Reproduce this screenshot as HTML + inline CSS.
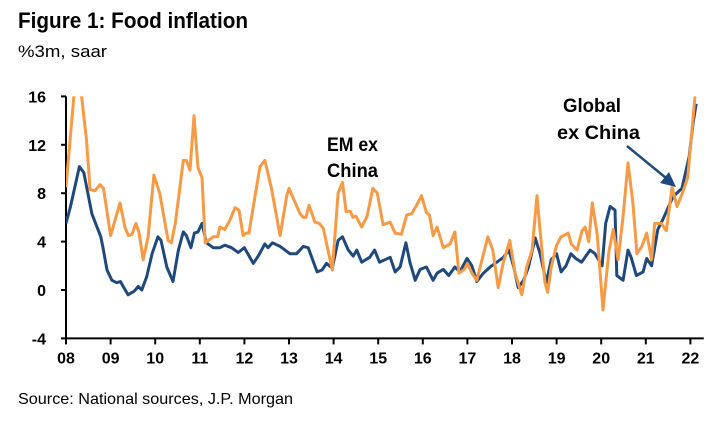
<!DOCTYPE html>
<html><head><meta charset="utf-8"><style>
body{margin:0;background:#fff;width:720px;height:421px;overflow:hidden;font-family:"Liberation Sans",Arial,sans-serif}
</style></head><body>
<svg id="chart" width="720" height="421" xmlns="http://www.w3.org/2000/svg">
<text x="18" y="28" font-size="22" font-weight="bold" textLength="230" lengthAdjust="spacingAndGlyphs" font-family="Liberation Sans, sans-serif">Figure 1: Food inflation</text>
<text x="18" y="57" font-size="17" textLength="89" lengthAdjust="spacingAndGlyphs" font-family="Liberation Sans, sans-serif">%3m, saar</text>
<text x="18" y="404" font-size="16" textLength="275" lengthAdjust="spacingAndGlyphs" font-family="Liberation Sans, sans-serif">Source: National sources, J.P. Morgan</text>
<g id="axes"></g>
<g id="series"></g>
<text x="327" y="151" font-size="19" font-weight="bold" textLength="51" lengthAdjust="spacingAndGlyphs" font-family="Liberation Sans, sans-serif">EM ex</text>
<text x="327" y="177" font-size="19" font-weight="bold" textLength="51" lengthAdjust="spacingAndGlyphs" font-family="Liberation Sans, sans-serif">China</text>
<text x="563" y="112" font-size="19" font-weight="bold" textLength="58" lengthAdjust="spacingAndGlyphs" font-family="Liberation Sans, sans-serif">Global</text>
<text x="557" y="139" font-size="19" font-weight="bold" textLength="83" lengthAdjust="spacingAndGlyphs" font-family="Liberation Sans, sans-serif">ex China</text>
<g>
<line x1="627" y1="146" x2="666" y2="178" stroke="#1f497d" stroke-width="2.5"/>
<polygon points="676,187 660,183 669,172" fill="#1f497d"/>
</g>
</svg>
<script>
const yTicks=[16,12,8,4,0,-4];
const xTickLabels=["08","09","10","11","12","13","14","15","16","17","18","19","20","21","22"];
const emDates=[2008.0,2008.2,2008.35,2008.46,2008.54,2008.65,2008.76,2008.84,2009.0,2009.21,2009.32,2009.4,2009.48,2009.57,2009.64,2009.73,2009.84,2009.97,2010.1,2010.29,2010.36,2010.45,2010.63,2010.7,2010.78,2010.87,2010.96,2011.05,2011.12,2011.3,2011.4,2011.45,2011.56,2011.68,2011.79,2011.88,2011.97,2012.04,2012.1,2012.35,2012.46,2012.6,2012.8,2012.95,2013.0,2013.25,2013.32,2013.38,2013.45,2013.58,2013.68,2013.77,2013.97,2014.1,2014.2,2014.28,2014.38,2014.43,2014.5,2014.63,2014.75,2014.88,2014.98,2015.11,2015.27,2015.38,2015.52,2015.64,2015.75,2015.86,2015.97,2016.08,2016.15,2016.23,2016.32,2016.46,2016.61,2016.72,2016.81,2016.93,2017.0,2017.1,2017.21,2017.32,2017.46,2017.57,2017.69,2017.8,2017.95,2018.07,2018.22,2018.33,2018.45,2018.56,2018.63,2018.74,2018.8,2018.88,2019.0,2019.1,2019.26,2019.33,2019.46,2019.57,2019.64,2019.72,2019.8,2019.91,2020.04,2020.17,2020.27,2020.38,2020.49,2020.6,2020.71,2020.8,2020.91,2021.02,2021.13,2021.2,2021.35,2021.46,2021.59,2021.7,2021.82,2021.94,2022.1,2022.13];
const emValues=[8.5,17,16,12.4,8.3,8.2,8.7,8.4,4.5,7.2,5.2,4.5,4.6,5.5,4.7,2.5,4.4,9.5,8.0,4.1,3.9,5.5,10.7,10.7,9.9,14.4,10.1,9.3,3.9,4.4,4.4,5.2,5.0,5.8,6.8,6.6,4.5,4.7,4.7,10.2,10.7,8.5,4.5,7.8,8.4,6.3,6.0,6.0,7.0,5.6,5.5,5.1,1.65,8.0,8.9,6.5,6.5,6.0,6.1,5.2,6.1,8.4,8.0,5.4,5.6,4.7,4.6,6.2,6.3,7.0,7.8,6.4,6.2,4.5,5.2,3.5,3.8,4.8,1.4,1.7,2.2,1.4,0.8,2.4,4.4,3.3,0.2,2.2,4.1,1.4,-0.4,1.9,3.3,7.8,4.9,0.6,-0.2,1.9,3.7,4.4,4.7,3.8,3.3,4.9,5.2,4.0,7.2,4.6,-1.65,3.1,5.0,2.5,6.1,10.5,7.2,3.0,3.6,4.7,2.5,5.5,5.5,4.9,8.5,6.9,8.0,9.3,15.9,15.9];
const glDates=[2008.0,2008.1,2008.3,2008.4,2008.58,2008.78,2008.83,2008.92,2009.03,2009.14,2009.22,2009.39,2009.53,2009.62,2009.7,2009.81,2009.93,2010.06,2010.13,2010.26,2010.4,2010.52,2010.63,2010.7,2010.8,2010.88,2010.96,2011.05,2011.15,2011.3,2011.45,2011.56,2011.71,2011.86,2012.0,2012.2,2012.31,2012.46,2012.53,2012.63,2012.8,2013.02,2013.17,2013.32,2013.43,2013.63,2013.74,2013.84,2013.97,2014.1,2014.2,2014.33,2014.44,2014.52,2014.63,2014.81,2014.92,2015.03,2015.15,2015.27,2015.38,2015.49,2015.62,2015.71,2015.83,2015.94,2016.08,2016.23,2016.32,2016.46,2016.58,2016.72,2016.83,2016.99,2017.1,2017.21,2017.36,2017.51,2017.66,2017.81,2017.93,2018.04,2018.14,2018.26,2018.37,2018.52,2018.63,2018.77,2018.88,2019.0,2019.1,2019.21,2019.32,2019.43,2019.56,2019.75,2019.86,2020.02,2020.1,2020.2,2020.31,2020.35,2020.49,2020.6,2020.67,2020.79,2020.94,2021.02,2021.13,2021.27,2021.38,2021.5,2021.61,2021.81,2021.97,2022.06,2022.13];
const glValues=[5.5,6.9,10.2,9.7,6.3,4.4,3.5,1.65,0.8,0.6,0.7,-0.4,-0.1,0.3,0.0,1.1,3.0,4.4,4.1,1.9,0.7,3.3,4.8,4.5,3.5,4.7,4.8,5.5,3.9,3.5,3.5,3.7,3.5,3.1,3.5,2.2,2.8,3.8,3.5,3.9,3.6,3.0,3.0,3.6,3.5,1.5,1.65,2.2,1.8,4.1,4.4,3.3,2.8,3.3,2.3,2.7,3.3,2.3,2.5,2.7,1.5,1.9,3.9,2.3,0.8,1.7,1.9,0.8,1.4,1.7,1.2,1.9,1.5,2.6,2.0,0.7,1.4,1.9,2.3,2.7,3.3,1.9,0.2,0.8,1.9,4.3,3.0,0.6,2.5,3.0,1.5,2.0,3.0,2.6,2.3,3.3,3.0,2.0,5.5,6.9,6.6,1.2,0.8,3.3,2.7,1.2,1.5,2.6,2.0,5.0,5.8,6.8,7.7,8.4,11.0,13.8,15.4];

const X0=66, YR=44.6, YZ=290, UNIT=12.1;
const xScale=d=>X0+(d-2008)*YR;
const yScale=v=>YZ-v*UNIT;
const NS="http://www.w3.org/2000/svg";
const axes=document.getElementById('axes');
function mk(tag,attrs,parent){const e=document.createElementNS(NS,tag);for(const k in attrs)e.setAttribute(k,attrs[k]);parent.appendChild(e);return e;}
const yAxis=mk('line',{x1:X0,x2:X0,y1:yScale(16),y2:yScale(-4),stroke:'#000','stroke-width':2},axes);


const xAxis=mk('line',{x1:X0,x2:X0+14.3*YR,y1:yScale(-4),y2:yScale(-4),stroke:'#000','stroke-width':2},axes);


yTicks.forEach(v=>{
  mk('line',{x1:X0-5,x2:X0,y1:yScale(v),y2:yScale(v),stroke:'#000','stroke-width':2},axes);
  const t=mk('text',{x:X0-20,y:yScale(v)+6,'font-size':16,'font-weight':'bold','text-anchor':'end','font-family':'Liberation Sans, sans-serif'},axes);
  t.textContent=v;
  
  
});
xTickLabels.forEach((l,i)=>{
  const x=xScale(2008+i);
  mk('line',{x1:x,x2:x,y1:yScale(-4),y2:yScale(-4)+6,stroke:'#000','stroke-width':2},axes);
  const t=mk('text',{x:x,y:yScale(-4)+25,'font-size':16,'font-weight':'bold','text-anchor':'middle','font-family':'Liberation Sans, sans-serif'},axes);
  t.textContent=l;
  
  
});
const ser=document.getElementById('series');
const clip=mk('clipPath',{id:'plotclip'},ser);
mk('rect',{x:X0,y:yScale(16),width:660,height:yScale(-4)-yScale(16)},clip);
function line(dates,vals,color){
  const d=dates.map((t,i)=>(i?'L':'M')+xScale(t).toFixed(1)+','+yScale(vals[i]).toFixed(1)).join(' ');
  return mk('path',{d:d,fill:'none',stroke:color,'stroke-width':3,'stroke-linejoin':'round','clip-path':'url(#plotclip)'},ser);
}
const pg=line(glDates,glValues,'#1f497d');


const pe=line(emDates,emValues,'#f79a45');


</script>
</body></html>
